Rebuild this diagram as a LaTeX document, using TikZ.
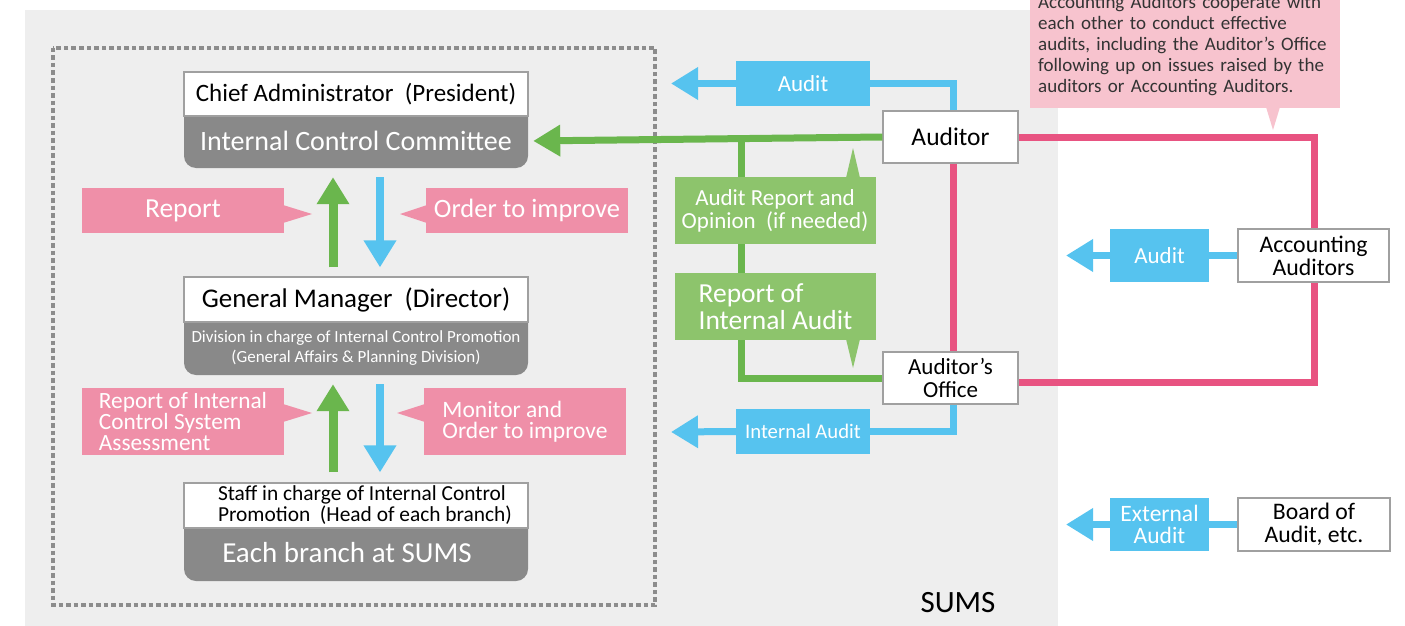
\documentclass[tikz,border=0pt]{standalone}
\usepackage{fontspec}
\setmainfont{Carlito}
\usetikzlibrary{arrows.meta}
\definecolor{bgG}{HTML}{EEEEEE}
\definecolor{dotG}{HTML}{8C8C8C}
\definecolor{boxG}{HTML}{898989}
\definecolor{skyB}{HTML}{56C3EF}
\definecolor{grL}{HTML}{6AB64D}
\definecolor{grB}{HTML}{8DC46C}
\definecolor{pkB}{HTML}{EF8FA8}
\definecolor{pkL}{HTML}{E85381}
\definecolor{pkC}{HTML}{F7C3CE}
\definecolor{edgeG}{HTML}{A0A0A0}
\definecolor{noteT}{HTML}{333333}
\tikzset{
  fsz/.style 2 args={font=\fontsize{#1}{#2}\selectfont},
  wbox/.style={draw=edgeG, line width=1.2pt, fill=white, inner sep=0pt, text=black, align=center},
  gtext/.style={inner sep=0pt, text=white, align=center},
  pbox/.style={fill=pkB, inner sep=0pt, text=white, minimum width=202pt},
  bbox/.style={fill=skyB, inner sep=0pt, text=white, align=center},
  gnbox/.style={fill=grB, inner sep=0pt, text=white, minimum width=201pt, minimum height=67pt},
  bline/.style={draw=skyB, line width=7pt},
  barrow/.style={bline, -{Triangle[length=27pt,width=31pt]}},
  gline/.style={draw=grL, line width=7pt},
  garrow/.style={gline, -{Triangle[length=27pt,width=31pt]}},
  pline/.style={draw=pkL, line width=7pt},
}
\begin{document}
\begin{tikzpicture}[x=1pt,y=-1pt]
\useasboundingbox (0,0) rectangle (1405,626);
% background
\fill[bgG] (25,10) rectangle (1058,626);
\draw[dotG, line width=4.5pt, dash pattern=on 4.5pt off 3pt] (53,48) rectangle (655,605);

% callout
\begin{scope}
\clip (0,0) rectangle (1405,626);
\fill[pkC] (1030,-20) rectangle (1340,108);
\fill[pkC] (1266,107) -- (1273,130) -- (1280,107) -- cycle;
\node[anchor=base west, inner sep=0pt, text width=292pt, text=noteT, fsz={19}{20.8}] (note) at (1038,9)
 {\makebox[292pt][s]{Accounting Auditors cooperate with}\\
  \makebox[292pt][s]{each other to conduct effective}\\
  \makebox[292pt][s]{audits, including the Auditor's Office}\\
  \makebox[292pt][s]{following up on issues raised by the}\\
  auditors or Accounting Auditors.};
\end{scope}

% left column boxes
\fill[boxG, rounded corners=12pt] (184,100) rectangle (528,168);
\node[wbox, minimum width=344pt, minimum height=44pt, fsz={25}{28}] (ca) at (356,94) {Chief Administrator\ \ (President)};
\node[gtext, minimum width=344pt, minimum height=52pt, fsz={28}{30}] (icc) at (356,141) {Internal Control Committee};

\fill[boxG, rounded corners=12pt] (184,300) rectangle (528,375);
\node[wbox, minimum width=344pt, minimum height=45pt, fsz={27}{28}] (gm) at (356,299.5) {General Manager\ \ (Director)};
\node[gtext, minimum width=344pt, minimum height=53pt, fsz={17}{20}] (gmd) at (356,348.5) {Division in charge of Internal Control Promotion\\(General Affairs \& Planning Division)};

\fill[boxG, rounded corners=12pt] (184,510) rectangle (528,581);
\node[wbox, minimum width=344pt, minimum height=45pt, fsz={21.4}{21}, align=left] (st) at (356,505.5) {\hspace*{18pt}Staff in charge of Internal Control\\\hspace*{18pt}Promotion\ \ (Head of each branch)};
\node[gtext, minimum width=344pt, minimum height=53pt] (eb) at (356,554.5) {};
\node[gtext, fsz={29}{30}] (ebt) at (347,553) {Each branch at SUMS};

% middle arrows
\draw[garrow, line width=9pt, shorten <=9pt, shorten >=10pt] ([xshift=-23pt]gm.north) -- ([xshift=-23pt]icc.south);
\draw[barrow, line width=8pt, shorten <=10pt, shorten >=9pt] ([xshift=24pt]icc.south) -- ([xshift=24pt]gm.north);
\draw[garrow, line width=9pt, shorten <=10pt, shorten >=9pt] ([xshift=-23pt]st.north) -- ([xshift=-23pt]gmd.south);
\draw[barrow, line width=8pt, shorten <=9pt, shorten >=10pt] ([xshift=24pt]gmd.south) -- ([xshift=24pt]st.north);

% pink labels
\node[pbox, minimum height=45pt, fsz={27.5}{29}] (rep) at (183,210.5) {Report};
\fill[pkB] (283,205) -- (312,214) -- (283,223) -- cycle;
\node[pbox, minimum height=45pt, fsz={26.5}{29}] (ord) at (527,210.5) {Order to improve};
\fill[pkB] (427,205) -- (400,214) -- (427,223) -- cycle;
\node[pbox, minimum height=67pt, fsz={23.3}{20.7}, align=left] (rpi) at (183,421.5) {Report of Internal\\Control System\\Assessment};
\fill[pkB] (283,404) -- (312,413) -- (283,422) -- cycle;
\node[pbox, minimum height=67pt, fsz={23.5}{21}, align=left] (mon) at (525,421.5) {Monitor and\\Order to improve};
\fill[pkB] (425,404) -- (397,413) -- (425,422) -- cycle;

% right side nodes
\node[wbox, minimum width=135pt, minimum height=52pt, fsz={25.5}{26}] (aud) at (950.5,137) {Auditor};
\node[wbox, minimum width=135pt, minimum height=52pt, fsz={23}{23}] (off) at (950.5,378) {Auditor's\\Office};
\coordinate (gj) at (741,137);
\coordinate (tipA) at (671,83.5);
\coordinate (tipB) at (671,432);
\coordinate (tipC) at (1066,255.5);
\coordinate (tipD) at (1066,524.5);
\coordinate (pkA) at (1314,137);
\coordinate (pkB2) at (1314,382);

% pink lines
\draw[pline] (aud.east) -- (pkA) -- (pkB2) -- ([yshift=-4pt]off.east);
\draw[pline] ([xshift=3pt]aud.south) -- ([xshift=3pt]off.north);

% green lines
\draw[garrow, shorten >=5pt, -{Triangle[length=27pt,width=30pt]}] (aud.west) -- (icc.east);
\draw[gline] (gj) |- (off.west);

% green boxes
\node[gnbox, fsz={23}{23}, align=center] (gb1) at (775,210.5) {Audit Report and\\Opinion\ \ (if needed)};
\fill[grB] (846,178) -- (853,148) -- (860,178) -- cycle;
\node[gnbox, fsz={27.5}{27}, align=left] (gb2) at (775.5,306.5) {Report of\\Internal Audit};
\fill[grB] (846,339) -- (853,368) -- (860,339) -- cycle;

% blue audit lines
\node[bbox, minimum width=134pt, minimum height=45pt, fsz={23}{24}] (au1) at (803,83.5) {Audit};
\draw[bline] ([xshift=3pt]aud.north) |- (au1.east);
\draw[barrow] (au1.west) -- (tipA);
\node[bbox, minimum width=134pt, minimum height=45pt, fsz={20.7}{22}] (au3) at (803,431.5) {Internal Audit};
\draw[bline] ([xshift=3pt]off.south) |- (au3.east);
\draw[barrow] (au3.west) -- (tipB);

\node[wbox, minimum width=151pt, minimum height=53pt, fsz={23.8}{23}] (acc) at (1313.5,255.5) {Accounting\\Auditors};
\node[bbox, minimum width=99pt, minimum height=53pt, fsz={23}{24}] (au2) at (1159.5,255.5) {Audit};
\draw[bline] (acc.west) -- (au2.east);
\draw[barrow] (au2.west) -- (tipC);

\node[wbox, minimum width=152pt, minimum height=53pt, fsz={23.7}{23}] (boa) at (1314,524.5) {Board of\\Audit, etc.};
\node[bbox, minimum width=99pt, minimum height=53pt, fsz={23.5}{22}] (ext) at (1159.5,524.5) {External\\Audit};
\draw[bline] (boa.west) -- (ext.east);
\draw[barrow] (ext.west) -- (tipD);

\node[fsz={31}{32}, text=black] (sums) at (958,603) {SUMS};
\end{tikzpicture}
\end{document}
